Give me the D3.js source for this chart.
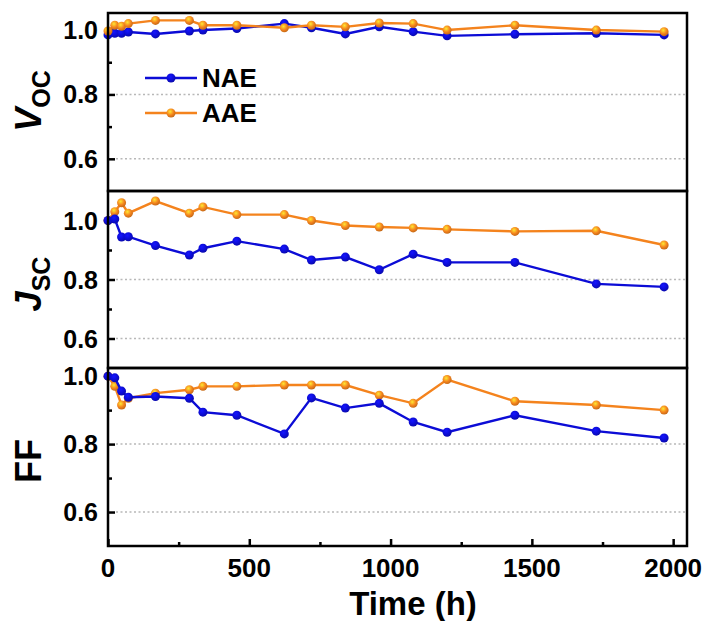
<!DOCTYPE html>
<html>
<head>
<meta charset="utf-8">
<script src="https://cdn.jsdelivr.net/npm/d3@7"></script>
<style>
  body { margin: 0; background: #fff; }
  text { font-family: "Liberation Sans", Arial, sans-serif; font-weight: bold; }
</style>
</head>
<body>
<svg width="706" height="621"></svg>
<script>
// time points (h)
const hours = [0, 24, 48, 72, 168, 288, 336, 456, 624, 720, 840, 960, 1080, 1200, 1440, 1728, 1968];

// normalized values
const vocNAE = [0.985, 0.99, 0.99, 0.994, 0.988, 0.997, 1.0, 1.005, 1.02, 1.007, 0.988, 1.01, 0.995, 0.982, 0.987, 0.99, 0.985];
const vocAAE = [0.997, 1.015, 1.012, 1.02, 1.03, 1.03, 1.015, 1.015, 1.007, 1.015, 1.01, 1.022, 1.02, 1.0, 1.015, 1.0, 0.995];
const jscNAE = [1.0, 1.005, 0.944, 0.945, 0.915, 0.883, 0.906, 0.93, 0.903, 0.866, 0.876, 0.833, 0.886, 0.858, 0.858, 0.785, 0.775];
const jscAAE = [1.0, 1.03, 1.06, 1.025, 1.066, 1.025, 1.046, 1.02, 1.02, 1.0, 0.983, 0.978, 0.975, 0.97, 0.963, 0.965, 0.917];
const ffNAE = [1.0, 0.995, 0.956, 0.938, 0.94, 0.935, 0.894, 0.885, 0.83, 0.936, 0.906, 0.92, 0.865, 0.835, 0.885, 0.838, 0.818];
const ffAAE = [1.0, 0.97, 0.915, 0.935, 0.95, 0.96, 0.97, 0.97, 0.974, 0.974, 0.974, 0.944, 0.92, 0.99, 0.926, 0.915, 0.9];

const yTicks = [0.6, 0.8, 1.0];
const xTicks = [0, 500, 1000, 1500, 2000];
const seriesNames = ['NAE', 'AAE'];
const colors = { NAE: '#0c0cd6', AAE: '#f4831d' };

const svg = d3.select('svg');
const [left, right] = [108, 687];

const x = d3.scaleLinear().domain([0, 2049]).range([left, right]);

// panel layout; order = which series is drawn last (on top)
const panels = [
  { name: 'voc', top: 13, bottom: 191, domain: [0.5, 1.053], data: [vocNAE, vocAAE], order: [0, 1] },
  { name: 'jsc', top: 191, bottom: 368, domain: [0.5, 1.1], data: [jscNAE, jscAAE], order: [1, 0] },
  { name: 'ff', top: 368, bottom: 546, domain: [0.5, 1.024], data: [ffNAE, ffAAE], order: [1, 0] }
];

// ball-like marker gradients
const defs = svg.append('defs');
seriesNames.forEach(s => {
  const g = defs.append('radialGradient')
    .attr('id', 'ball' + s)
    .attr('cx', '40%').attr('cy', '35%').attr('r', '65%');
  g.append('stop').attr('offset', '0%').attr('stop-color', d3.color(colors[s]).brighter(1.6));
  g.append('stop').attr('offset', '60%').attr('stop-color', colors[s]);
  g.append('stop').attr('offset', '100%').attr('stop-color', d3.color(colors[s]).darker(0.6));
});

panels.forEach((p, pi) => {
  const y = d3.scaleLinear().domain(p.domain).range([p.bottom, p.top]);
  const g = svg.append('g').attr('class', p.name);

  // dotted grid
  g.selectAll('.grid')
    .data([0.6, 0.8])
    .enter()
    .append('line')
    .attr('x1', left + 8).attr('x2', right - 2)
    .attr('y1', d => y(d)).attr('y2', d => y(d))
    .attr('stroke', '#b8b8b8')
    .attr('stroke-width', 1.5)
    .attr('stroke-dasharray', '2,2.5');

  // y axis, inward ticks
  const yAxis = g.append('g')
    .attr('transform', `translate(${left},0)`)
    .call(d3.axisRight(y).tickValues(yTicks).tickSize(7).tickFormat(''));
  yAxis.select('.domain').remove();
  yAxis.selectAll('line').attr('stroke', '#000').attr('stroke-width', 2.5);

  const yMinor = g.append('g')
    .attr('transform', `translate(${left},0)`)
    .call(d3.axisRight(y).tickValues([0.7, 0.9]).tickSize(4).tickFormat(''));
  yMinor.select('.domain').remove();
  yMinor.selectAll('line').attr('stroke', '#000').attr('stroke-width', 2.5);

  g.selectAll('.ylab')
    .data(yTicks)
    .enter()
    .append('text')
    .attr('x', left - 10)
    .attr('y', d => y(d) + 9)
    .attr('text-anchor', 'end')
    .attr('font-size', 25)
    .text(d => d.toFixed(1));

  // lines and markers
  p.order.forEach(si => {
    const s = seriesNames[si];
    const vals = p.data[si];
    const line = d3.line()
      .x((d, i) => x(hours[i]))
      .y(d => y(d));
    g.append('path')
      .datum(vals)
      .attr('d', line)
      .attr('fill', 'none')
      .attr('stroke', colors[s])
      .attr('stroke-width', 2.4);
    g.selectAll('.pt' + s)
      .data(vals)
      .enter()
      .append('circle')
      .attr('cx', (d, i) => x(hours[i]))
      .attr('cy', d => y(d))
      .attr('r', 4.5)
      .attr('fill', `url(#ball${s})`);
  });

  // frame
  g.append('rect')
    .attr('x', left).attr('y', p.top)
    .attr('width', right - left).attr('height', p.bottom - p.top)
    .attr('fill', 'none')
    .attr('stroke', '#000')
    .attr('stroke-width', 2.5);

  if (pi === 0) {
    // legend
    seriesNames.forEach((s, i) => {
      const ly = 78 + i * 35;
      svg.append('line')
        .attr('x1', 145).attr('x2', 197)
        .attr('y1', ly).attr('y2', ly)
        .attr('stroke', colors[s]).attr('stroke-width', 2.4);
      svg.append('circle')
        .attr('cx', 171).attr('cy', ly).attr('r', 4.5)
        .attr('fill', `url(#ball${s})`);
      svg.append('text')
        .attr('x', 202).attr('y', ly + 9)
        .attr('font-size', 26)
        .text(s);
    });
  }
});

// x axis ticks (bottom panel)
const xb = panels[2].bottom;
const xAxis = svg.append('g')
  .attr('transform', `translate(0,${xb})`)
  .call(d3.axisTop(x).tickValues(xTicks).tickSize(7).tickFormat(''));
xAxis.select('.domain').remove();
xAxis.selectAll('line').attr('stroke', '#000').attr('stroke-width', 2.5);
const xMinor = svg.append('g')
  .attr('transform', `translate(0,${xb})`)
  .call(d3.axisTop(x).tickValues([250, 750, 1250, 1750]).tickSize(4).tickFormat(''));
xMinor.select('.domain').remove();
xMinor.selectAll('line').attr('stroke', '#000').attr('stroke-width', 2.5);

svg.selectAll('.xlab')
  .data(xTicks)
  .enter()
  .append('text')
  .attr('x', d => x(d))
  .attr('y', 577)
  .attr('text-anchor', 'middle')
  .attr('font-size', 26)
  .text(d => d);

svg.append('text')
  .attr('x', 413).attr('y', 615)
  .attr('text-anchor', 'middle')
  .attr('font-size', 33)
  .text('Time (h)');

// y titles
function yTitle(cy, main, sub, italic) {
  const t = svg.append('text')
    .attr('transform', `translate(41,${cy}) rotate(-90)`)
    .attr('text-anchor', 'middle');
  t.append('tspan')
    .attr('font-size', 36)
    .attr('font-style', italic ? 'italic' : 'normal')
    .text(main);
  if (sub) {
    t.append('tspan')
      .attr('font-size', 25)
      .attr('dy', 9)
      .text(sub);
  }
}
yTitle(101, 'V', 'OC', true);
yTitle(284, 'J', 'SC', true);
yTitle(461, 'FF', null, false);
</script>
</body>
</html>
